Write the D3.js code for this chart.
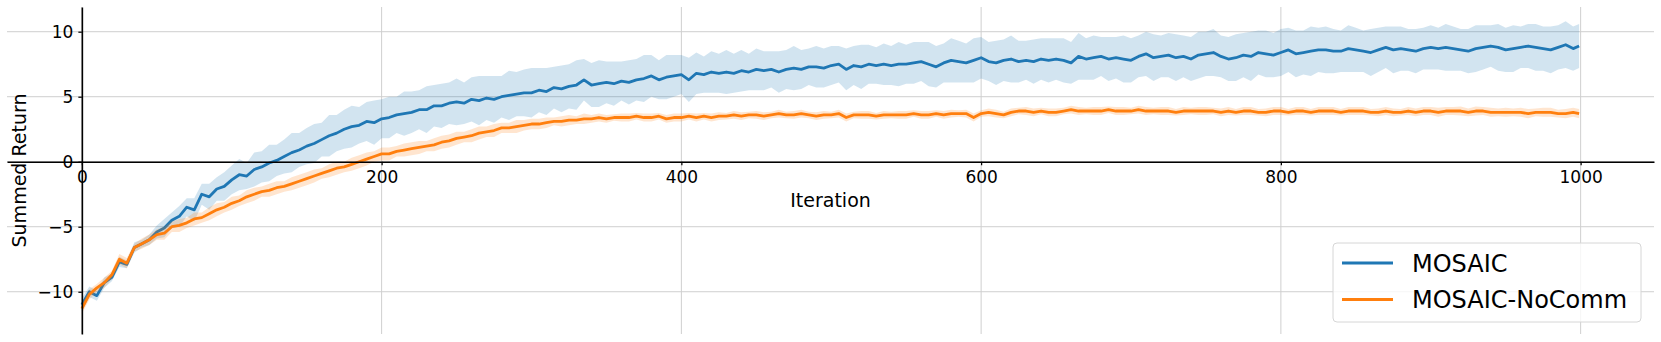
<!DOCTYPE html>
<html>
<head>
<meta charset="utf-8">
<script src="https://cdn.jsdelivr.net/npm/d3@7"></script>
<style>
  body { margin: 0; background: #fff; }
  svg { display: block; font-family: "DejaVu Sans", sans-serif; }
</style>
</head>
<body>
<svg id="chart" width="1661" height="342"></svg>
<script>
// x positions of the logged points (every 5th iteration + the last one)
const ITERATIONS = [...d3.range(0, 1000, 5), 999];
const X_TICKS = [0, 200, 400, 600, 800, 1000];
const Y_TICKS = [-10, -5, 0, 5, 10];
const SERIES_NAMES = ["MOSAIC", "MOSAIC-NoComm"];

const mosaicMean = [
  -11.0, -10.0, -10.3, -9.3, -8.9, -7.7, -7.9, -6.6, -6.3, -6.0,
  -5.4, -5.1, -4.5, -4.2, -3.5, -3.7, -2.5, -2.7, -2.1, -1.9,
  -1.4, -1.0, -1.1, -0.6, -0.4, -0.1, 0.1, 0.4, 0.7, 0.9,
  1.2, 1.4, 1.7, 2.0, 2.2, 2.5, 2.7, 2.8, 3.1, 3.0,
  3.3, 3.4, 3.6, 3.7, 3.8, 4.0, 4.0, 4.3, 4.3, 4.5,
  4.6, 4.5, 4.8, 4.7, 4.9, 4.8, 5.0, 5.1, 5.2, 5.3,
  5.3, 5.5, 5.4, 5.7, 5.6, 5.8, 5.9, 6.3, 5.9, 6.0,
  6.1, 6.0, 6.2, 6.1, 6.3, 6.4, 6.6, 6.3, 6.5, 6.6,
  6.7, 6.3, 6.8, 6.7, 6.9, 6.8, 6.9, 6.8, 7.0, 6.9,
  7.1, 7.0, 7.1, 6.9, 7.1, 7.2, 7.1, 7.3, 7.3, 7.2,
  7.4, 7.5, 7.1, 7.4, 7.3, 7.5, 7.4, 7.5, 7.4, 7.5,
  7.5, 7.6, 7.7, 7.5, 7.3, 7.6, 7.8, 7.7, 7.6, 7.8,
  8.0, 7.7, 7.6, 7.8, 7.9, 7.7, 7.8, 7.7, 7.9, 7.8,
  7.9, 7.8, 7.6, 8.1, 7.9, 8.0, 8.1, 7.9, 8.0, 7.9,
  7.8, 8.1, 8.3, 8.0, 8.1, 8.2, 8.0, 8.1, 7.9, 8.2,
  8.3, 8.4, 8.1, 7.9, 8.0, 8.2, 8.1, 8.4, 8.3, 8.2,
  8.4, 8.6, 8.3, 8.4, 8.5, 8.6, 8.6, 8.5, 8.5, 8.7,
  8.6, 8.5, 8.4, 8.6, 8.8, 8.6, 8.7, 8.6, 8.5, 8.7,
  8.8, 8.7, 8.8, 8.7, 8.6, 8.5, 8.7, 8.8, 8.9, 8.8,
  8.6, 8.7, 8.8, 8.9, 8.8, 8.7, 8.6, 8.8, 9.0, 8.7,
  8.9
];

const mosaicSpread = [
  0.5, 0.4, 0.4, 0.4, 0.3, 0.4, 0.3, 0.4, 0.3, 0.4,
  0.5, 0.7, 0.6, 0.8, 0.7, 0.9, 0.8, 1.0, 0.9, 1.1,
  1.1, 1.2, 1.0, 1.3, 1.2, 1.4, 1.2, 1.3, 1.5, 1.3,
  1.4, 1.5, 1.3, 1.6, 1.4, 1.5, 1.6, 1.4, 1.5, 1.7,
  1.5, 1.6, 1.4, 1.7, 1.6, 1.5, 1.8, 1.6, 1.7, 1.6,
  1.8, 1.6, 1.7, 1.9, 1.7, 1.8, 1.6, 1.9, 1.7, 1.8,
  1.9, 1.7, 1.8, 1.6, 1.8, 1.7, 1.9, 1.6, 1.7, 1.8,
  1.6, 1.7, 1.5, 1.7, 1.6, 1.8, 1.6, 1.5, 1.7, 1.6,
  1.5, 1.7, 1.6, 1.4, 1.6, 1.5, 1.7, 1.5, 1.6, 1.4,
  1.6, 1.5, 1.4, 1.6, 1.5, 1.7, 1.5, 1.4, 1.6, 1.5,
  1.5, 1.4, 1.6, 1.5, 1.7, 1.5, 1.4, 1.6, 1.5, 1.7,
  1.5, 1.6, 1.5, 1.7, 1.6, 1.5, 1.7, 1.6, 1.5, 1.7,
  1.6, 1.5, 1.7, 1.6, 1.8, 1.6, 1.5, 1.7, 1.6, 1.7,
  1.6, 1.7, 1.6, 1.8, 1.6, 1.7, 1.5, 1.7, 1.6, 1.8,
  1.7, 1.6, 1.7, 1.8, 1.6, 1.7, 1.8, 1.6, 1.7, 1.8,
  1.7, 1.8, 1.6, 1.7, 1.8, 1.7, 1.9, 1.7, 1.8, 1.7,
  1.8, 1.7, 1.8, 1.7, 1.9, 1.7, 1.8, 1.7, 1.6, 1.8,
  1.7, 1.6, 1.8, 1.7, 1.6, 1.8, 1.7, 1.6, 1.7, 1.6,
  1.7, 1.6, 1.8, 1.7, 1.6, 1.7, 1.8, 1.7, 1.6, 1.8,
  1.7, 1.8, 1.6, 1.7, 1.8, 1.7, 1.8, 1.7, 1.8, 1.7,
  1.7
];

const noCommMean = [
  -11.3, -10.2, -9.7, -9.3, -8.7, -7.5, -7.8, -6.6, -6.3, -6.0,
  -5.6, -5.5, -5.0, -4.9, -4.7, -4.4, -4.3, -4.0, -3.7, -3.5,
  -3.2, -3.0, -2.7, -2.5, -2.3, -2.2, -2.0, -1.9, -1.7, -1.5,
  -1.3, -1.1, -0.9, -0.7, -0.5, -0.4, -0.2, 0.0, 0.2, 0.4,
  0.6, 0.6, 0.8, 0.9, 1.0, 1.1, 1.2, 1.3, 1.5, 1.6,
  1.8, 1.9, 2.0, 2.2, 2.3, 2.4, 2.6, 2.6, 2.7, 2.8,
  2.9, 2.9, 3.0, 3.1, 3.1, 3.2, 3.2, 3.3, 3.3, 3.4,
  3.3, 3.4, 3.4, 3.4, 3.5, 3.4, 3.4, 3.5, 3.3, 3.4,
  3.4, 3.5, 3.4, 3.5, 3.4, 3.5, 3.5, 3.6, 3.5, 3.6,
  3.6, 3.5, 3.6, 3.7, 3.6, 3.6, 3.7, 3.6, 3.5, 3.6,
  3.6, 3.7, 3.4, 3.6, 3.6, 3.6, 3.5, 3.6, 3.6, 3.6,
  3.6, 3.7, 3.6, 3.6, 3.7, 3.6, 3.7, 3.7, 3.7, 3.4,
  3.7, 3.8, 3.7, 3.6, 3.8, 3.9, 3.9, 3.8, 3.9, 3.8,
  3.8, 3.9, 4.0, 3.9, 3.9, 3.9, 3.9, 4.0, 3.9, 3.9,
  3.9, 4.0, 3.9, 3.9, 3.9, 3.9, 3.8, 3.9, 3.9, 3.9,
  3.9, 3.9, 3.8, 3.9, 3.8, 3.9, 3.9, 3.8, 3.8, 3.9,
  3.9, 3.8, 3.9, 3.9, 3.8, 3.9, 3.9, 3.9, 3.8, 3.9,
  3.9, 3.9, 3.8, 3.8, 3.9, 3.8, 3.8, 3.9, 3.8, 3.9,
  3.9, 3.8, 3.9, 3.9, 3.9, 3.8, 3.9, 3.9, 3.8, 3.8,
  3.8, 3.8, 3.8, 3.7, 3.8, 3.8, 3.8, 3.7, 3.7, 3.8,
  3.7
];

const noCommSpread = [
  0.4, 0.4, 0.3, 0.4, 0.3, 0.4, 0.4, 0.3, 0.4, 0.4,
  0.4, 0.5, 0.4, 0.5, 0.4, 0.5, 0.4, 0.5, 0.5, 0.4,
  0.5, 0.4, 0.5, 0.5, 0.4, 0.5, 0.5, 0.4, 0.5, 0.5,
  0.5, 0.5, 0.4, 0.5, 0.5, 0.4, 0.5, 0.5, 0.5, 0.4,
  0.5, 0.5, 0.4, 0.5, 0.5, 0.5, 0.4, 0.5, 0.5, 0.5,
  0.5, 0.4, 0.5, 0.5, 0.4, 0.5, 0.4, 0.4, 0.5, 0.4,
  0.4, 0.4, 0.4, 0.3, 0.4, 0.4, 0.3, 0.4, 0.3, 0.3,
  0.3, 0.25, 0.3, 0.3, 0.25, 0.3, 0.3, 0.25, 0.3, 0.3,
  0.3, 0.25, 0.3, 0.25, 0.3, 0.3, 0.25, 0.3, 0.3, 0.25,
  0.3, 0.3, 0.25, 0.3, 0.25, 0.3, 0.3, 0.25, 0.3, 0.3,
  0.25, 0.3, 0.3, 0.25, 0.3, 0.3, 0.25, 0.3, 0.25, 0.3,
  0.3, 0.25, 0.3, 0.3, 0.25, 0.3, 0.3, 0.25, 0.3, 0.3,
  0.25, 0.3, 0.3, 0.25, 0.3, 0.25, 0.3, 0.3, 0.25, 0.3,
  0.3, 0.25, 0.3, 0.3, 0.25, 0.3, 0.3, 0.25, 0.3, 0.3,
  0.25, 0.3, 0.3, 0.25, 0.3, 0.3, 0.25, 0.3, 0.25, 0.3,
  0.3, 0.25, 0.3, 0.3, 0.25, 0.3, 0.3, 0.25, 0.3, 0.3,
  0.3, 0.25, 0.3, 0.3, 0.25, 0.3, 0.3, 0.3, 0.25, 0.3,
  0.3, 0.3, 0.25, 0.3, 0.3, 0.3, 0.25, 0.3, 0.3, 0.3,
  0.3, 0.35, 0.3, 0.3, 0.35, 0.3, 0.35, 0.3, 0.35, 0.3,
  0.35, 0.3, 0.35, 0.35, 0.3, 0.35, 0.35, 0.3, 0.35, 0.35,
  0.35
];

const COLORS = ["#1f77b4", "#ff7f0e"];

const series = [
  { name: SERIES_NAMES[0], mean: mosaicMean, spread: mosaicSpread, color: COLORS[0] },
  { name: SERIES_NAMES[1], mean: noCommMean, spread: noCommSpread, color: COLORS[1] }
];

const svg = d3.select("#chart");
const plot = { left: 7, right: 1654, top: 7, bottom: 334 };

const x = d3.scaleLinear().domain([-49.95, 1048.95]).range([plot.left, plot.right]);
const y = d3.scaleLinear().domain([-13.25, 11.9]).range([plot.bottom, plot.top]);

// grid
const grid = svg.append("g").attr("stroke", "#cfcfcf").attr("stroke-width", 1);
grid.selectAll(".gx").data(X_TICKS).join("line")
  .attr("x1", (d) => x(d)).attr("x2", (d) => x(d))
  .attr("y1", plot.top).attr("y2", plot.bottom);
grid.selectAll(".gy").data(Y_TICKS).join("line")
  .attr("x1", plot.left).attr("x2", plot.right)
  .attr("y1", (d) => y(d)).attr("y2", (d) => y(d));

// bands + lines
for (const s of series) {
  const pts = ITERATIONS.map((it, i) => ({ it, m: s.mean[i], sd: s.spread[i] }));
  svg.append("path")
    .datum(pts)
    .attr("fill", s.color)
    .attr("fill-opacity", 0.2)
    .attr("d", d3.area()
      .x((d) => x(d.it))
      .y0((d) => y(d.m - d.sd))
      .y1((d) => y(d.m + d.sd)));
  svg.append("path")
    .datum(pts)
    .attr("fill", "none")
    .attr("stroke", s.color)
    .attr("stroke-width", 2.8)
    .attr("stroke-linejoin", "round")
    .attr("d", d3.line().x((d) => x(d.it)).y((d) => y(d.m)));
}

// axes: spines cross at zero
const fmt = (d) => (d < 0 ? "\u2212" + Math.abs(d) : String(d));

const xAxis = svg.append("g")
  .attr("transform", `translate(0,${y(0)})`)
  .call(d3.axisBottom(x).tickValues(X_TICKS).tickFormat(fmt)
    .tickSizeInner(3.5).tickSizeOuter(0).tickPadding(5.5));

const yAxis = svg.append("g")
  .attr("transform", `translate(${x(0)},0)`)
  .call(d3.axisLeft(y).tickValues(Y_TICKS).tickFormat(fmt)
    .tickSizeInner(3.5).tickSizeOuter(0).tickPadding(5));

for (const ax of [xAxis, yAxis]) {
  ax.select(".domain").attr("stroke", "#000").attr("stroke-width", 1.6);
  ax.selectAll(".tick line").attr("stroke", "#000").attr("stroke-width", 1.2);
  ax.selectAll(".tick text")
    .attr("fill", "#000")
    .style("font-family", "'DejaVu Sans', sans-serif")
    .style("font-size", "17px");
}

// axis labels
svg.append("text")
  .attr("x", (plot.left + plot.right) / 2)
  .attr("y", 207)
  .attr("text-anchor", "middle")
  .style("font-size", "19px")
  .text("Iteration");

svg.append("text")
  .attr("transform", `translate(26,${(plot.top + plot.bottom) / 2}) rotate(-90)`)
  .attr("text-anchor", "middle")
  .style("font-size", "19px")
  .text("Summed Return");

// legend
const legend = svg.append("g").attr("transform", "translate(1333,243)");
legend.append("rect")
  .attr("width", 308).attr("height", 79).attr("rx", 4)
  .attr("fill", "#fff").attr("fill-opacity", 0.8)
  .attr("stroke", "#d6d6d6").attr("stroke-width", 1);

const item = legend.selectAll(".item").data(series).join("g")
  .attr("transform", (d, i) => `translate(0,${20 + i * 36.5})`);
item.append("line")
  .attr("x1", 9).attr("x2", 60)
  .attr("stroke", (d) => d.color).attr("stroke-width", 2.8);
item.append("text")
  .attr("x", 79).attr("dy", "0.36em")
  .style("font-size", "24px")
  .text((d) => d.name);
</script>
</body>
</html>
